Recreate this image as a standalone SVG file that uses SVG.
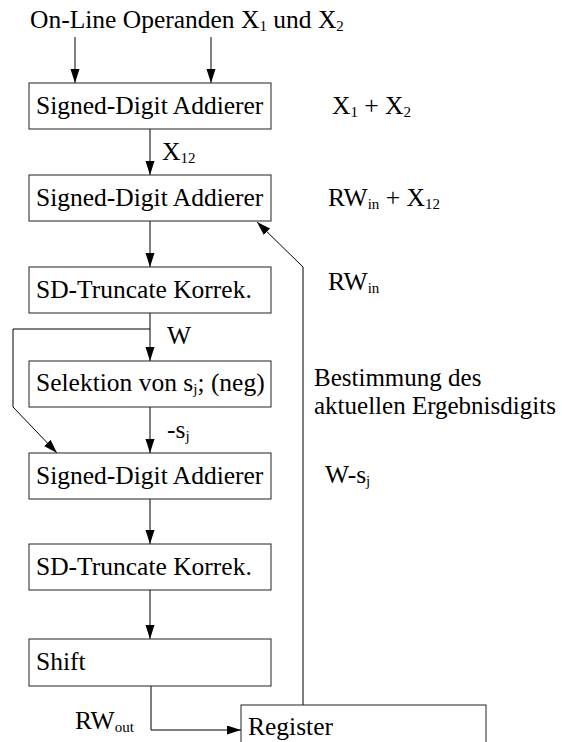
<svg xmlns="http://www.w3.org/2000/svg" width="562" height="742" viewBox="0 0 562 742">
<style>
text{font-family:'Liberation Serif','Times New Roman',serif;font-size:25.5px;fill:#000}
.sub{font-size:15px}
.r{font-size:25px}
.box{fill:#fff;stroke:#222;stroke-width:1}
.ln{fill:none;stroke:#000;stroke-width:1}
</style>
<defs>
<marker id="ah" markerUnits="userSpaceOnUse" markerWidth="14" markerHeight="10" refX="14" refY="4.5" orient="auto">
<path d="M0,0 L14,4.5 L0,9 z" fill="#000"/>
</marker>
</defs>
<rect width="562" height="742" fill="#fff"/>
<g id="connectors">
<path class="ln" d="M75,37 V83" marker-end="url(#ah)"/>
<path class="ln" d="M211,37 V83" marker-end="url(#ah)"/>
<path class="ln" d="M150,129 V175" marker-end="url(#ah)"/>
<path class="ln" d="M150,221 V267" marker-end="url(#ah)"/>
<path class="ln" d="M150,313 V361" marker-end="url(#ah)"/>
<path class="ln" d="M150,329 H13 V407 L57,453" marker-end="url(#ah)"/>
<path class="ln" d="M150,407 V453" marker-end="url(#ah)"/>
<path class="ln" d="M150,499 V544" marker-end="url(#ah)"/>
<path class="ln" d="M150,590 V639" marker-end="url(#ah)"/>
<path class="ln" d="M151,686 V730 H241" marker-end="url(#ah)"/>
<path class="ln" d="M303,705 V267 L257,222" marker-end="url(#ah)"/>
</g>
<g id="title"><text x="30" y="28">On-Line Operanden X<tspan class="sub" dy="3">1</tspan><tspan dy="-3"> und X</tspan><tspan class="sub" dy="3">2</tspan></text></g>
<g id="add1"><rect class="box" x="29" y="83" width="242" height="46"/><text x="36" y="114">Signed-Digit Addierer</text></g>
<g id="add2"><rect class="box" x="29" y="175" width="242" height="46"/><text x="36" y="206">Signed-Digit Addierer</text></g>
<g id="trunc1"><rect class="box" x="29" y="267" width="242" height="46"/><text x="36" y="298">SD-Truncate Korrek.</text></g>
<g id="sel"><rect class="box" x="29" y="361" width="242" height="46"/><text x="36" y="391">Selektion von s<tspan class="sub" dy="3">j</tspan><tspan dy="-3">; (neg)</tspan></text></g>
<g id="add3"><rect class="box" x="29" y="453" width="242" height="46"/><text x="36" y="484">Signed-Digit Addierer</text></g>
<g id="trunc2"><rect class="box" x="29" y="544" width="242" height="46"/><text x="36" y="575">SD-Truncate Korrek.</text></g>
<g id="shift"><rect class="box" x="29" y="639" width="242" height="47"/><text x="36" y="670">Shift</text></g>
<g id="register"><rect class="box" x="241" y="705" width="245" height="50"/><text x="248" y="735">Register</text></g>
<g id="labels">
<text x="162" y="160">X<tspan class="sub" dy="3">12</tspan></text>
<text x="167" y="344">W</text>
<text x="167" y="438">-s<tspan class="sub" dy="3">j</tspan></text>
<text x="75" y="729">RW<tspan class="sub" dy="3">out</tspan></text>
<text x="332" y="114">X<tspan class="sub" dy="3">1</tspan><tspan dy="-3"> + X</tspan><tspan class="sub" dy="3">2</tspan></text>
<text x="328" y="206">RW<tspan class="sub" dy="3">in</tspan><tspan dy="-3"> + X</tspan><tspan class="sub" dy="3">12</tspan></text>
<text x="328" y="290">RW<tspan class="sub" dy="3">in</tspan></text>
<text class="r" x="314" y="386">Bestimmung des</text>
<text class="r" x="314" y="414">aktuellen Ergebnisdigits</text>
<text x="325" y="483">W-s<tspan class="sub" dy="3">j</tspan></text>
</g>
</svg>
